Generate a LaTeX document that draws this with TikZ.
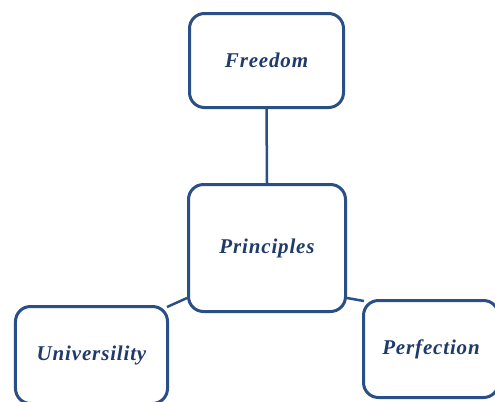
\documentclass[tikz,border=0pt]{standalone}
\usepackage{fontspec}
\setmainfont{Liberation Serif}
\usetikzlibrary{backgrounds,calc}
\definecolor{boxline}{HTML}{2A4F86}
\definecolor{txt}{HTML}{1F3A6B}
\tikzset{
  box/.style={draw=boxline, line width=3bp, rounded corners=15bp, fill=white,
    inner sep=0pt, text=txt, font=\fontsize{21bp}{25bp}\selectfont\bfseries\itshape\addfontfeature{LetterSpace=4}},
  link/.style={draw=boxline, line width=2.5bp}
}
\begin{document}
\begin{tikzpicture}[x=1bp,y=-1bp]
\useasboundingbox (0,0) rectangle (495,401);
\node[box, minimum width=154bp, minimum height=94bp] (F) at (266.5,60.5) {Freedom};
\node[box, minimum width=157bp, minimum height=127bp] (P) at (267,248) {Principles};
\node[box, minimum width=152bp, minimum height=97bp] (U) at (91.5,355) {Universility};
\node[box, minimum width=135bp, minimum height=97bp] (R) at (431,349) {Perfection};
\coordinate (ua) at ($(U.north east)+(-2,2)$);
\coordinate (ra) at ($(R.north west)+(2,2)$);
\begin{scope}[on background layer]
\draw[link] (F.south) -- (P.north);
\draw[link] (P.212) -- (ua);
\draw[link] (P.-32) -- (ra);
\end{scope}
\end{tikzpicture}
\end{document}
